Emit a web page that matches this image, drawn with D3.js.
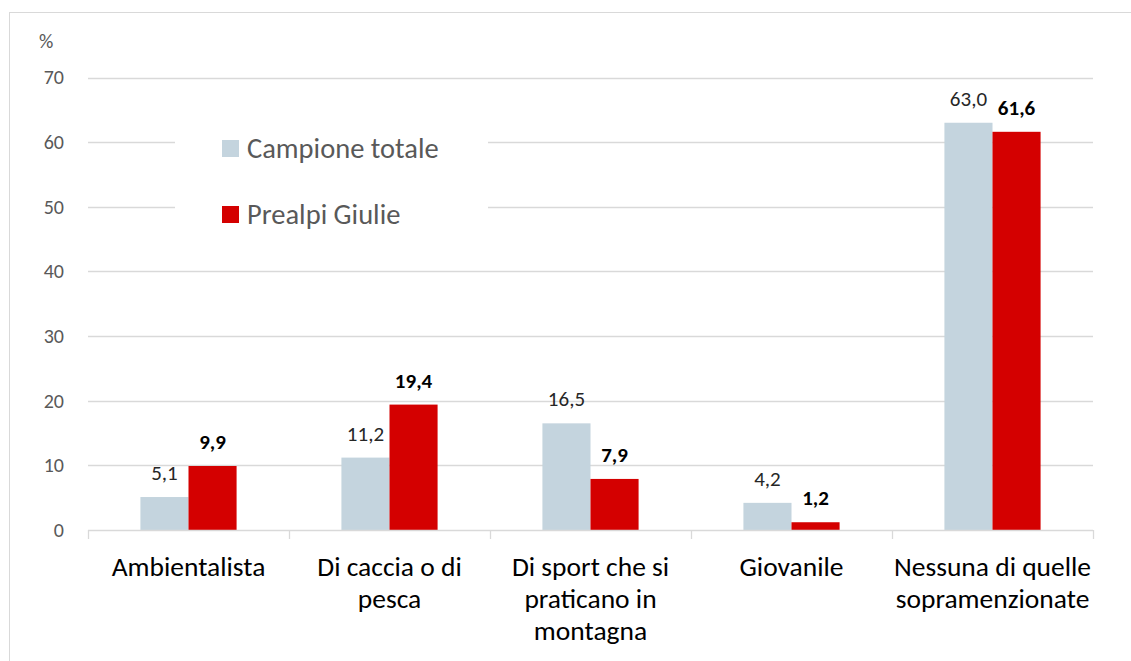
<!DOCTYPE html>
<html>
<head>
<meta charset="utf-8">
<script src="https://cdn.jsdelivr.net/npm/d3@7"></script>
<style>
  body { margin: 0; background: #fff; }
  svg { display: block; font-family: Calibri, Carlito, Lato, sans-serif; }
</style>
</head>
<body>
<svg id="chart" width="1131" height="661"></svg>
<script>
  'use strict';

  var categories = ['Ambientalista', 'Di caccia o di pesca', 'Di sport che si praticano in montagna', 'Giovanile', 'Nessuna di quelle sopramenzionate'];
  var categoryLines = [
    ['Ambientalista'],
    ['Di caccia o di', 'pesca'],
    ['Di sport che si', 'praticano in', 'montagna'],
    ['Giovanile'],
    ['Nessuna di quelle', 'sopramenzionate']
  ];
  var seriesNames = ['Campione totale', 'Prealpi Giulie'];
  var campioneTotale = [5.1, 11.2, 16.5, 4.2, 63.0];
  var prealpiGiulie = [9.9, 19.4, 7.9, 1.2, 61.6];
  var yTicks = [0, 10, 20, 30, 40, 50, 60, 70];

  var colors = ['#c4d4de', '#d40000'];
  var values = [campioneTotale, prealpiGiulie];

  var svg = d3.select('#chart');
  var fmt = function(v) { return v.toFixed(1).replace('.', ','); };

  // outer chart border
  svg.append('rect')
    .attr('x', 9.5).attr('y', 12.5)
    .attr('width', 1140).attr('height', 700)
    .attr('fill', 'none').attr('stroke', '#d9d9d9');

  var x = d3.scaleBand().domain(categories).range([88, 1093]);
  var xs = d3.scaleBand().domain(seriesNames).range([0, x.bandwidth()]).paddingOuter(1.09);
  var y = d3.scaleLinear().domain([0, 70]).range([530, 77.5]);

  // gridlines
  svg.append('g').selectAll('line')
    .data(yTicks.slice(1))
    .enter().append('line')
    .attr('x1', 88).attr('x2', 1093)
    .attr('y1', function(d) { return Math.round(y(d)) + 0.5; })
    .attr('y2', function(d) { return Math.round(y(d)) + 0.5; })
    .attr('stroke', '#d9d9d9').attr('stroke-width', 1.3);

  // y axis labels
  var yAxis = d3.axisLeft(y).tickValues(yTicks).tickSize(0).tickPadding(0);
  var yg = svg.append('g')
    .attr('transform', 'translate(64,0)')
    .call(yAxis);
  yg.select('.domain').remove();
  yg.selectAll('text')
    .attr('fill', '#595959')
    .style('font-size', '20px')
    .style('font-family', 'Calibri, Carlito, Lato, sans-serif');

  svg.append('text')
    .attr('x', 39).attr('y', 48)
    .attr('fill', '#595959')
    .style('font-size', '20px')
    .text('%');

  // legend box, white behind the entries
  var legend = svg.append('g');
  legend.append('rect')
    .attr('x', 175).attr('y', 122).attr('width', 313).attr('height', 114)
    .attr('fill', '#fff');
  var entries = legend.selectAll('g.entry')
    .data(seriesNames)
    .enter().append('g')
    .classed('entry', true)
    .attr('transform', function(d, i) { return 'translate(222,' + (140 + i * 66) + ')'; });
  entries.append('rect')
    .attr('width', 17).attr('height', 17)
    .attr('fill', function(d, i) { return colors[i]; });
  entries.append('text')
    .attr('x', 25).attr('y', 18)
    .attr('fill', '#595959')
    .style('font-size', '28.5px')
    .text(function(d) { return d; });

  // bars
  var groups = svg.append('g').selectAll('g')
    .data(categories)
    .enter().append('g')
    .attr('transform', function(d) { return 'translate(' + x(d) + ',0)'; });

  seriesNames.forEach(function(name, s) {
    groups.append('rect')
      .attr('x', xs(name))
      .attr('width', xs.bandwidth())
      .attr('y', function(d, i) { return y(values[s][i]); })
      .attr('height', function(d, i) { return y(0) - y(values[s][i]); })
      .attr('fill', colors[s]);

    groups.append('text')
      .attr('x', xs(name) + xs.bandwidth() / 2)
      .attr('y', function(d, i) { return y(values[s][i]) - 17; })
      .attr('text-anchor', 'middle')
      .attr('fill', s === 0 ? '#262626' : '#000')
      .style('font-size', '21px')
      .style('font-weight', s === 0 ? 'normal' : 'bold')
      .text(function(d, i) { return fmt(values[s][i]); });
  });

  // x axis line and ticks at category boundaries
  var xg = svg.append('g');
  xg.append('line')
    .attr('x1', 88).attr('x2', 1093)
    .attr('y1', 530.5).attr('y2', 530.5)
    .attr('stroke', '#d9d9d9').attr('stroke-width', 1.3);
  var bounds = categories.map(function(c) { return x(c); }).concat([x.range()[1]]);
  xg.selectAll('line.tick')
    .data(bounds)
    .enter().append('line')
    .classed('tick', true)
    .attr('x1', function(d) { return Math.round(d) + 0.5; })
    .attr('x2', function(d) { return Math.round(d) + 0.5; })
    .attr('y1', 530).attr('y2', 539)
    .attr('stroke', '#d9d9d9').attr('stroke-width', 1.3);

  // wrapped category labels
  xg.selectAll('text.cat')
    .data(categories)
    .enter().append('text')
    .classed('cat', true)
    .attr('text-anchor', 'middle')
    .attr('fill', '#000')
    .style('font-size', '27.5px')
    .each(function(d, i) {
      var el = d3.select(this);
      categoryLines[i].forEach(function(line, k) {
        el.append('tspan')
          .attr('x', x(d) + x.bandwidth() / 2)
          .attr('y', 576 + k * 32)
          .text(line);
      });
    });
</script>
</body>
</html>
